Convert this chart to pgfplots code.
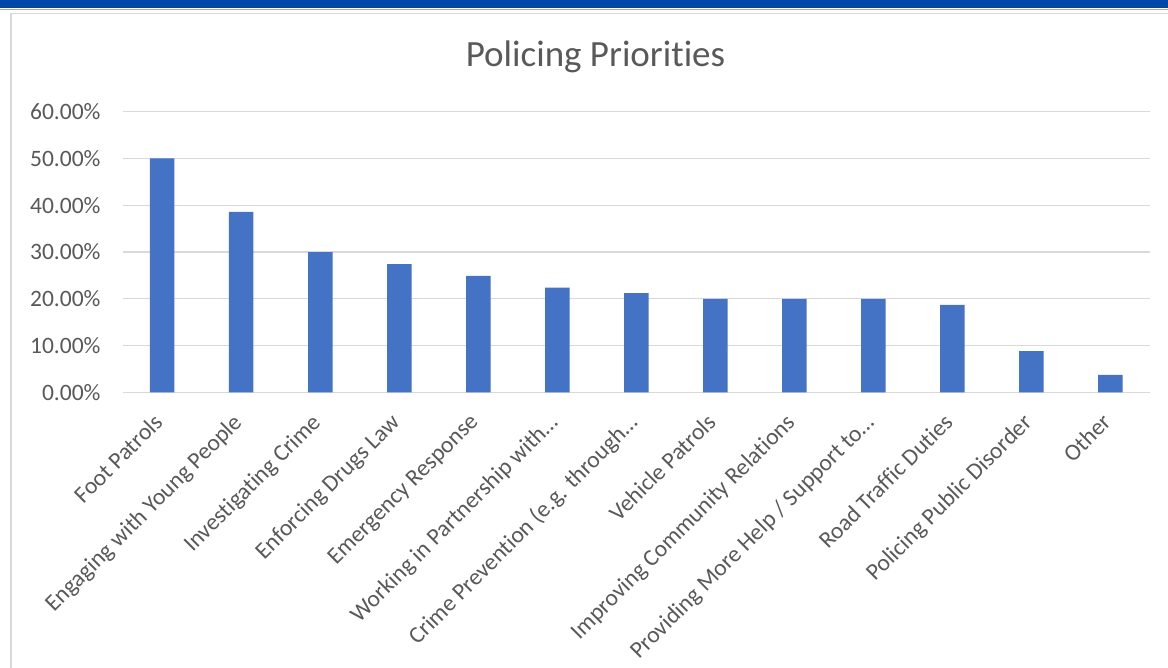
\documentclass[border=0pt]{standalone}
\usepackage{fontspec}
\setmainfont{Carlito}[Ligatures=NoCommon]
\usepackage{pgfplots}
\pgfplotsset{compat=1.18}
\definecolor{barblue}{HTML}{4472C4}
\definecolor{gridgray}{HTML}{D9D9D9}
\definecolor{txtgray}{HTML}{595959}
\definecolor{topblue}{HTML}{0047AB}
\definecolor{topdark}{HTML}{1F3A78}
\definecolor{topline}{HTML}{A4A9B2}
\begin{document}
\begin{tikzpicture}
\useasboundingbox (0bp,0bp) rectangle (1168bp,668bp);
\fill[white] (0bp,0bp) rectangle (1168bp,668bp);
\fill[topblue] (0bp,660.5bp) rectangle (1168bp,668bp);
\fill[topdark] (0bp,659.5bp) rectangle (1168bp,660.7bp);
\fill[topline] (0bp,658bp) rectangle (1168bp,659.2bp);
\draw[gridgray, line width=1.5bp] (11bp,-5bp) -- (11bp,654.5bp) -- (1175bp,654.5bp);
\node[anchor=base, text=txtgray, font=\fontsize{37bp}{42bp}\selectfont] at (595.5bp,601.3bp) {Policing Priorities};
\begin{axis}[
  at={(122.7bp,275.7bp)}, anchor=south west,
  scale only axis, width=1027.3bp, height=280.6bp,
  xmin=-0.5, xmax=12.5, ymin=0, ymax=60,
  axis line style={draw=none},
  major tick length=0pt,
  ymajorgrids, grid style={gridgray, line width=1.3bp},
  ytick={0,10,20,30,40,50,60},
  yticklabels={0.00\%,10.00\%,20.00\%,30.00\%,40.00\%,50.00\%,60.00\%},
  yticklabel style={text=txtgray, font=\fontsize{23.5bp}{26bp}\selectfont, inner sep=0pt, xshift=-22bp},
  xtick={0,...,12},
  xticklabels={Foot Patrols, Engaging with Young People, Investigating Crime, Enforcing Drugs Law, Emergency Response, Working in Partnership with…, Crime Prevention (e.g. through…, Vehicle Patrols, Improving Community Relations, Providing More Help / Support to…, Road Traffic Duties, Policing Public Disorder, Other},
  xticklabel style={rotate=45, anchor=north east, inner sep=0pt, xshift=-21bp, yshift=-7bp, text=txtgray, font=\fontsize{23.5bp}{26bp}\selectfont},
  /pgf/number format/assume math mode=true,
]
\addplot[ybar, bar width=24.5bp, fill=barblue, draw=none] coordinates {
(0,50.0) (1,38.6) (2,30.0) (3,27.4) (4,24.9) (5,22.4) (6,21.2) (7,20.0) (8,20.0) (9,20.0) (10,18.7) (11,8.8) (12,3.7)
};
\end{axis}
\end{tikzpicture}
\end{document}
